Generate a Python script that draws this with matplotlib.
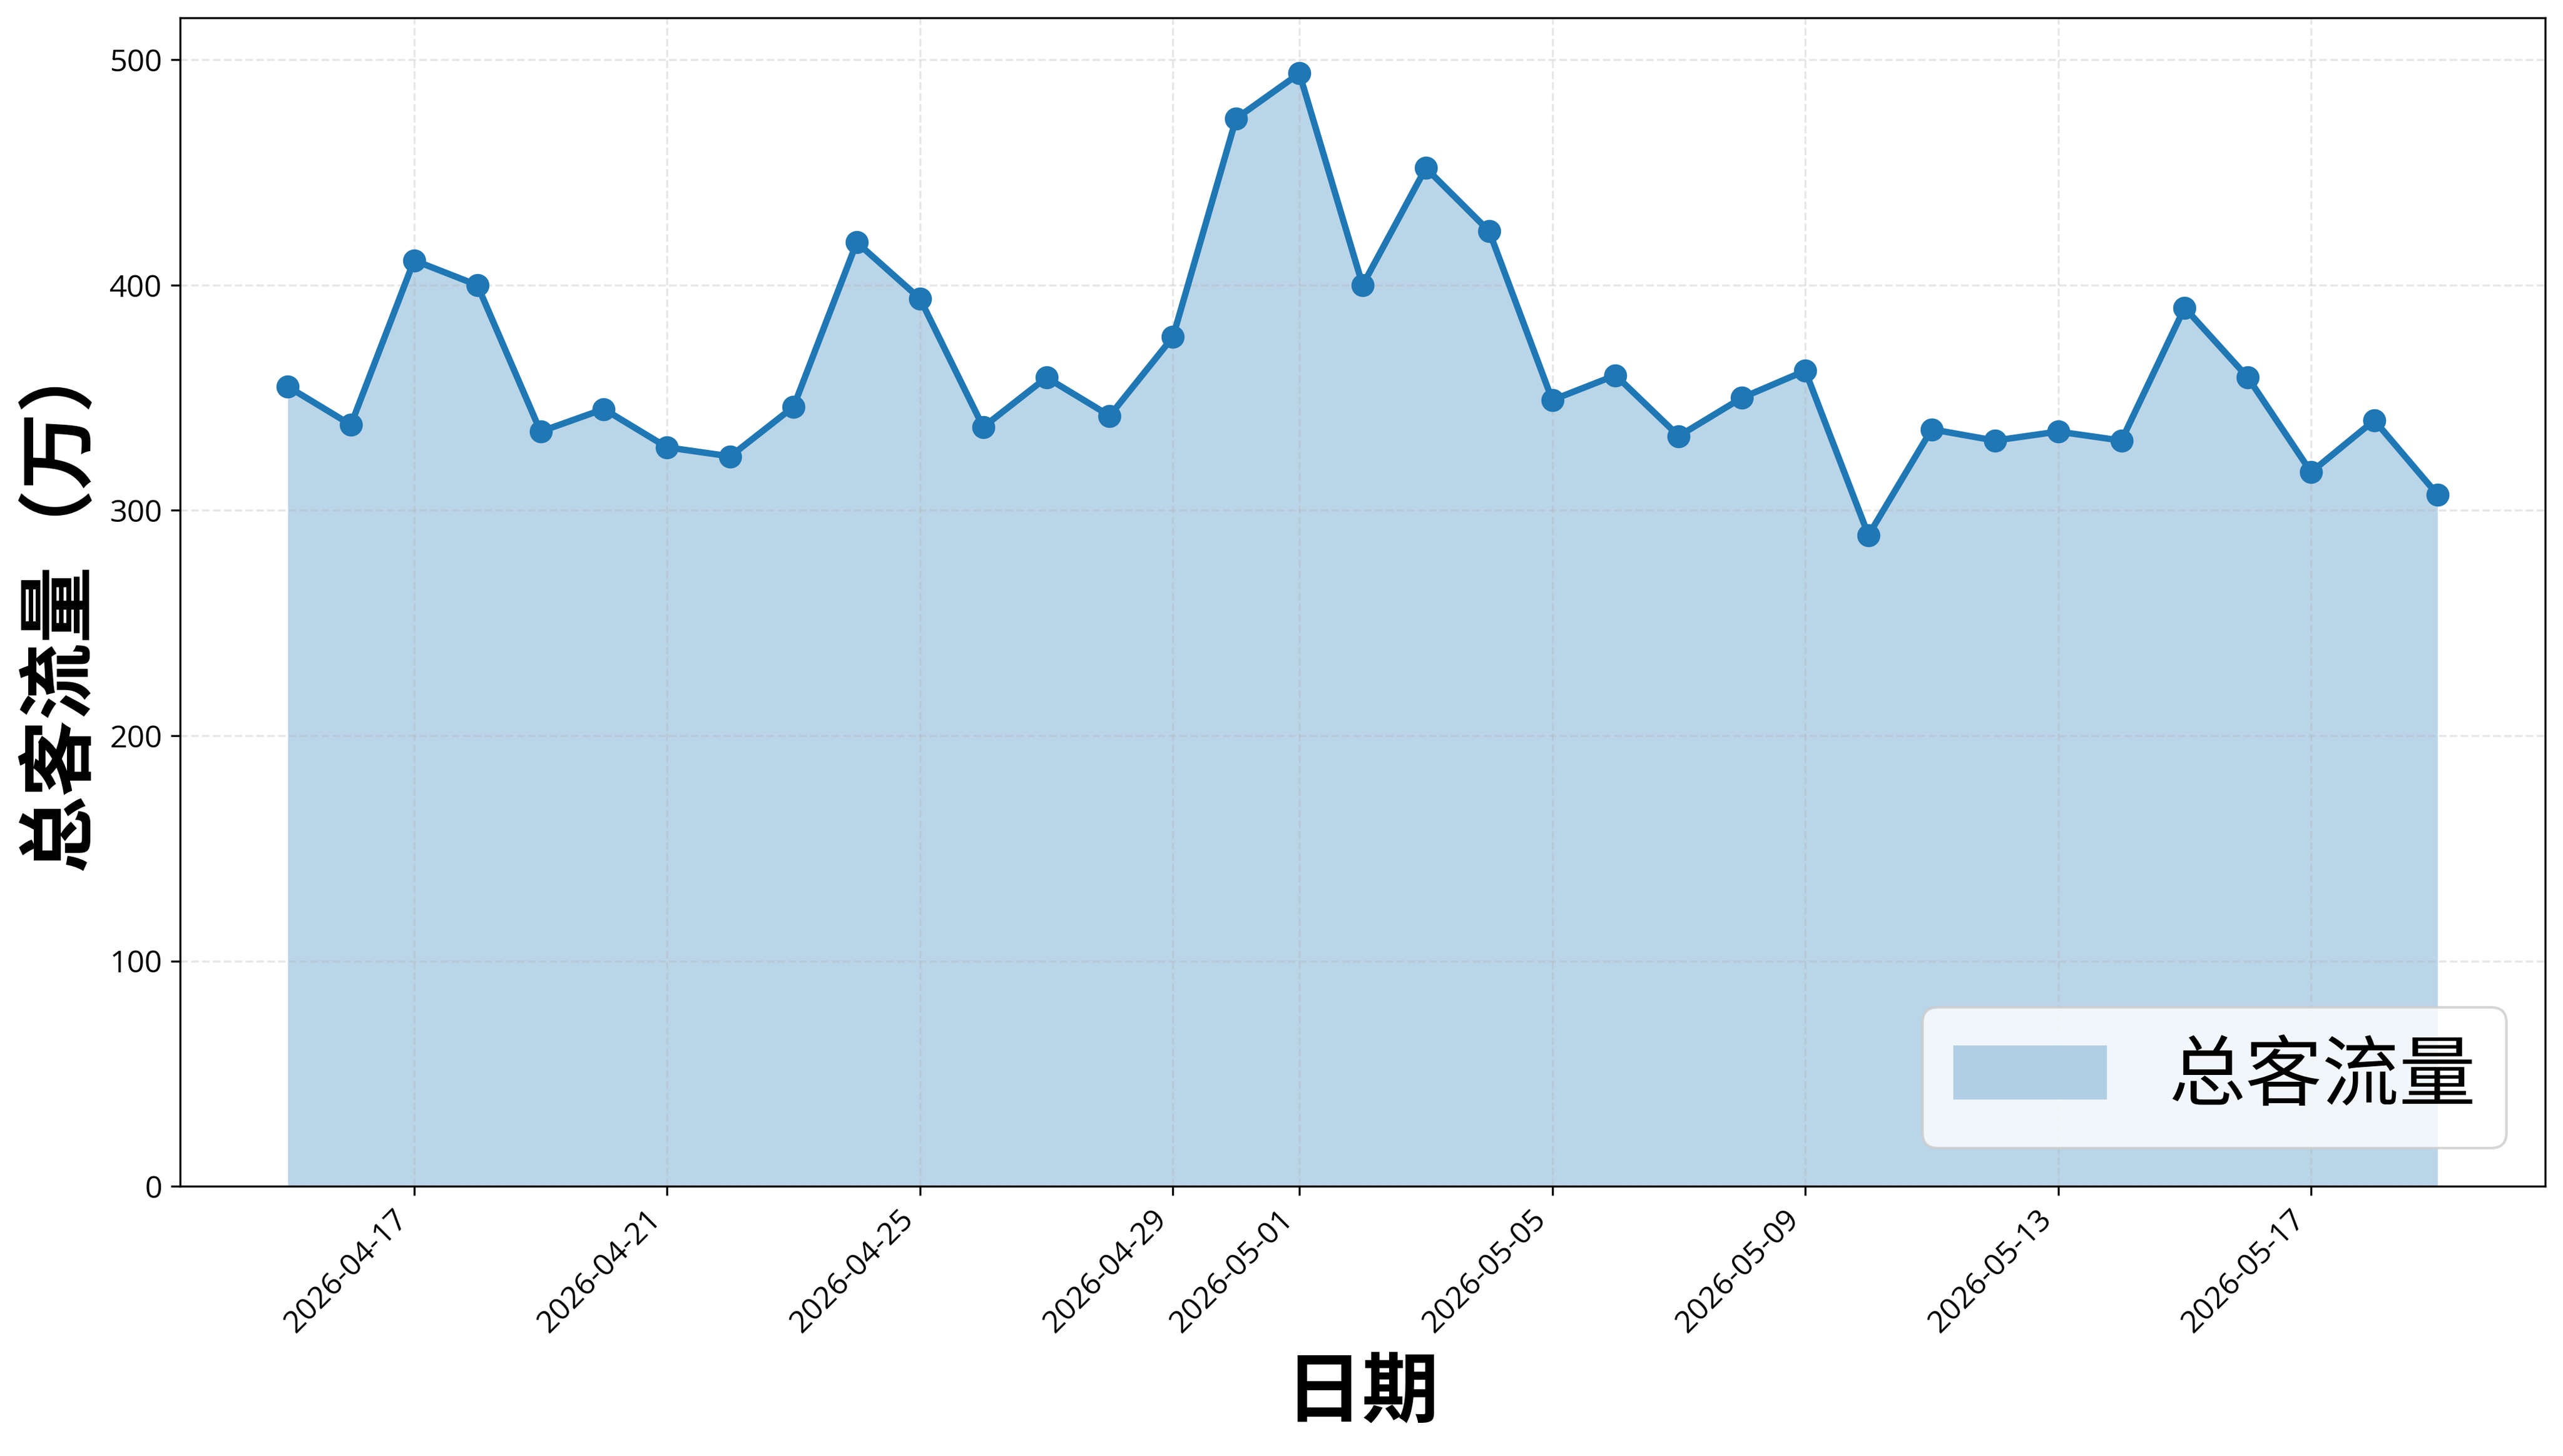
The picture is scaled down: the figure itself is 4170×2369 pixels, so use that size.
import numpy as np
import pandas as pd
import matplotlib
matplotlib.use("Agg")
import matplotlib.pyplot as plt

plt.rcParams['font.family'] = ['Noto Sans CJK SC', 'DejaVu Sans']
plt.rcParams['axes.unicode_minus'] = False

# 每日总客流量（万）
dates = pd.date_range("2026-04-15", "2026-05-19", freq="D")
flow = [355, 338, 411, 400, 335, 345, 328, 324, 346, 419,
        394, 337, 359, 342, 377, 474, 494, 400, 452, 424,
        349, 360, 333, 350, 362, 289, 336, 331, 335, 331,
        390, 359, 317, 340, 307]

fig, ax = plt.subplots(figsize=(13.9, 7.8967), dpi=300)

ax.fill_between(dates, flow, alpha=0.3, color="#1f77b4", linewidth=0, label="总客流量")
ax.plot(dates, flow, color="#1f77b4", linewidth=2.5, marker="o", markersize=8)

ax.set_xlabel("日期", fontsize=30, fontweight="bold", labelpad=6)
ax.set_ylabel("总客流量（万）", fontsize=30, fontweight="bold")
ax.set_ylim(bottom=0)
ax.grid(True, linestyle="--", alpha=0.3)
ax.tick_params(axis="both", labelsize=12)
for lbl in ax.get_xticklabels() + ax.get_yticklabels():
    lbl.set_fontfamily(['Open Sans', 'DejaVu Sans'])
plt.setp(ax.get_xticklabels(), rotation=45, ha="right")

ax.legend(loc="lower right", fontsize=30)

fig.subplots_adjust(left=0.0703, right=0.993, top=0.9878, bottom=0.1853)
fig.savefig("out.png", dpi=300)
